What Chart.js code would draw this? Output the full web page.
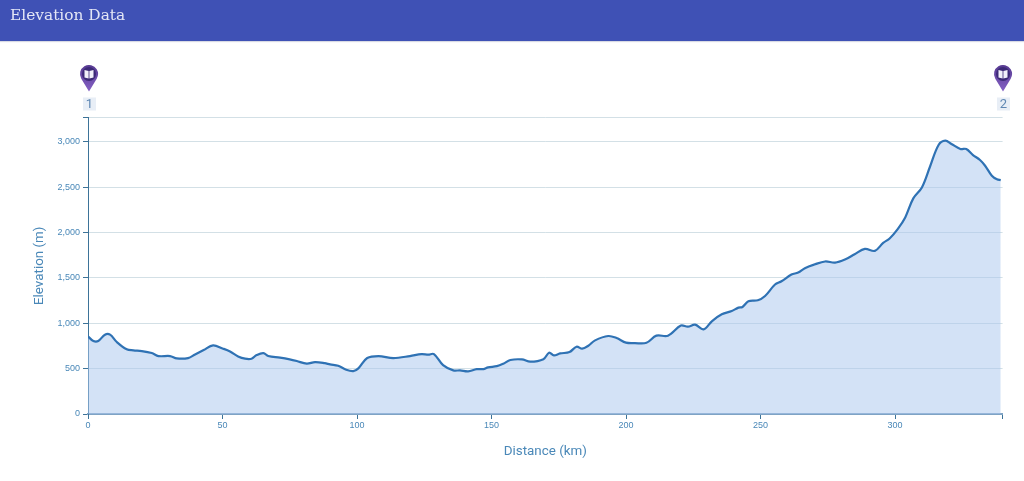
<!DOCTYPE html>
<html>
<head>
<meta charset="utf-8">
<title>Elevation Data</title>
<script src="https://cdn.jsdelivr.net/npm/chart.js@4"></script>
<style>
  html, body { margin: 0; padding: 0; background: #fff; overflow: hidden; }
  #header {
    position: absolute; left: 0; top: 0; width: 1024px; height: 41px;
    background: #3f51b5; color: #e4e7f6; box-shadow: 0 1px 1px rgba(60,70,120,.2);
    font: 15.4px/31px "DejaVu Serif", serif; padding-left: 10px; box-sizing: border-box;
    z-index: 2;
  }
  #grafico { position: absolute; left: 0; top: 0; }
</style>
</head>
<body>
<div id="header">Elevation Data</div>
<canvas id="grafico" width="1024" height="481"></canvas>
<script>
const distancia = [0, 2, 3.8, 6.3, 8.2, 10.7, 14.4, 16.9, 20, 23.7, 26.2, 30.5, 33, 37.2, 39.8, 43, 46.5, 50, 52.8, 55.8, 58.4, 60.8, 62.7, 65.2, 67, 71.4, 75, 77.6, 81.3, 84.4, 88, 90, 93, 96, 98.6, 100.5, 103.8, 108, 113.5, 119.7, 124, 126.5, 128.6, 132, 135.8, 138.3, 141.3, 144.5, 147, 148.7, 152, 154.4, 157, 161.3, 164.4, 169.3, 171.4, 173.2, 175.5, 179, 181.6, 183.7, 186, 188.5, 193.4, 196.5, 200, 203.3, 207.6, 211.3, 215.6, 220.4, 223, 225.7, 228.8, 232, 235.6, 239.3, 241.8, 243.3, 245.5, 249, 251.7, 255.4, 257.8, 261.5, 264, 266.5, 270, 274, 277.7, 281.4, 285, 288.8, 292.5, 295.6, 298, 301, 303.8, 306.8, 310, 313, 316.2, 318.7, 321, 324.3, 326.5, 329, 331.6, 333.5, 336, 337.9, 339.3];
const elevacao = [856, 805, 805, 875, 875, 794, 713, 702, 694, 672, 639, 639, 613, 617, 657, 705, 757, 723, 690, 635, 610, 610, 650, 672, 639, 621, 602, 584, 555, 572, 561, 547, 532, 488, 473, 503, 617, 639, 617, 639, 661, 654, 661, 539, 481, 481, 470, 495, 495, 514, 528, 555, 595, 602, 577, 605, 676, 646, 668, 683, 742, 720, 753, 812, 860, 838, 787, 782, 785, 864, 864, 975, 963, 985, 934, 1025, 1099, 1136, 1173, 1180, 1243, 1254, 1302, 1428, 1464, 1538, 1560, 1608, 1648, 1682, 1670, 1704, 1762, 1821, 1799, 1887, 1936, 2039, 2168, 2378, 2499, 2727, 2967, 3014, 2978, 2923, 2923, 2856, 2801, 2738, 2628, 2588, 2580];
const ticksY = [0, 500, 1000, 1500, 2000, 2500, 3000, 3270];
const ticksX = [0, 50, 100, 150, 200, 250, 300, 340];
const waypointKm = [0, 340];
const waypointLabel = ['1', '2'];
const maxDistancia = 340;
const maxElevacao = 3270;

const corTexto = '#4a88b8';
const corEixo = '#3d7398';
const corGrid = '#d3e0e6';

// pins acima do grafico, posicionados pela escala x
const pinos = {
  id: 'pinos',
  afterDraw(chart) {
    const c = chart.ctx;
    const escala = chart.scales.x;
    waypointKm.forEach((km, i) => {
      const x = Math.round(escala.getPixelForValue(km)) + (i == 0 ? 1 : 0);
      c.save();
      const grad = c.createLinearGradient(0, 65, 0, 91);
      grad.addColorStop(0, '#573a92');
      grad.addColorStop(1, '#8460c4');
      c.fillStyle = grad;
      c.beginPath();
      c.arc(x, 74, 9, Math.PI * 0.828, Math.PI * 0.172);
      c.lineTo(x, 91.5);
      c.closePath();
      c.fill();
      c.fillStyle = '#3d2a78';
      c.beginPath();
      c.arc(x, 74, 7, 0, Math.PI * 2);
      c.fill();
      // icone do mapa
      c.fillStyle = '#f2f0fa';
      c.beginPath();
      c.moveTo(x - 4.5, 70);
      c.lineTo(x - 0.4, 71);
      c.lineTo(x - 0.4, 78.5);
      c.lineTo(x - 4.5, 77.5);
      c.closePath();
      c.moveTo(x + 4.5, 70);
      c.lineTo(x + 0.4, 71);
      c.lineTo(x + 0.4, 78.5);
      c.lineTo(x + 4.5, 77.5);
      c.closePath();
      c.fill();
      c.fillStyle = '#e8eef6';
      c.fillRect(x - 6, 97.5, 13, 13);
      c.fillStyle = '#5f87b3';
      c.font = '13px Roboto';
      c.textAlign = 'center';
      c.textBaseline = 'middle';
      c.fillText(waypointLabel[i], x + 0.5, 104.5);
      c.restore();
    });
  }
};

new Chart(document.getElementById('grafico').getContext('2d'), {
  type: 'line',
  data: {
    datasets: [{
      label: 'Elevation',
      data: distancia.map((d, i) => ({ x: d, y: elevacao[i] })),
      borderColor: '#2f72b4',
      borderWidth: 2.2,
      backgroundColor: 'rgba(170,199,238,0.52)',
      fill: 'origin',
      pointRadius: 0,
      tension: 0.35
    }]
  },
  options: {
    responsive: false,
    animation: false,
    layout: { padding: { left: 28, right: 21.4, top: 117.5, bottom: 19 } },
    plugins: { legend: { display: false }, tooltip: { enabled: false } },
    scales: {
      x: {
        type: 'linear',
        min: 0,
        max: maxDistancia,
        afterFit: s => { s.height = 48; },
        afterBuildTicks: s => { s.ticks = ticksX.map(v => ({ value: v })); },
        title: {
          display: true,
          text: 'Distance (km)',
          color: corTexto,
          font: { family: 'Roboto', size: 13.4 },
          padding: { top: 0, bottom: 2.5 }
        },
        grid: { drawOnChartArea: false, tickColor: corEixo, tickLength: 5 },
        border: { color: '#7fa3c4', width: 2 },
        ticks: {
          autoSkip: false,
          maxRotation: 0,
          color: corTexto,
          padding: 1,
          font: { family: 'Liberation Sans', size: 9 },
          callback: v => (v % 50 == 0 ? v : '')
        }
      },
      y: {
        min: 0,
        max: maxElevacao,
        afterFit: s => { s.width = 60; },
        afterBuildTicks: s => { s.ticks = ticksY.map(v => ({ value: v })); },
        title: {
          display: true,
          text: 'Elevation (m)',
          color: corTexto,
          font: { family: 'Roboto', size: 13.4 },
          padding: { top: 4, bottom: 0 }
        },
        grid: { color: corGrid, tickColor: corEixo, tickLength: 5 },
        border: { color: corEixo, width: 1 },
        ticks: {
          autoSkip: false,
          color: corTexto,
          padding: 3,
          font: { family: 'Liberation Sans', size: 9 },
          callback: v => (v % 500 == 0 ? v.toLocaleString('en-US') : '')
        }
      }
    }
  },
  plugins: [pinos]
});
</script>
</body>
</html>
